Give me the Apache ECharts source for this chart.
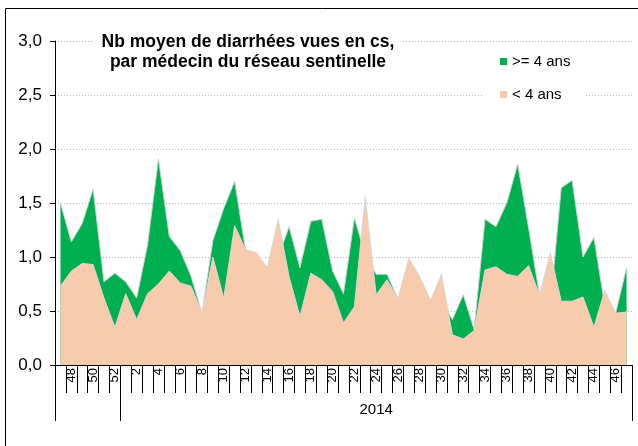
<!DOCTYPE html>
<html><head><meta charset="utf-8">
<script src="https://cdn.jsdelivr.net/npm/echarts@6/dist/echarts.min.js"></script>
<style>html,body{margin:0;padding:0;background:#fff}#c{width:638px;height:446px}</style>
</head><body><div id="c"></div>
<script>
// Weeks: 2013 w47..w52, then 2014 w1..w47
const weeks = ['47','48','49','50','51','52',
  '1','2','3','4','5','6','7','8','9','10','11','12','13','14','15','16','17','18','19','20',
  '21','22','23','24','25','26','27','28','29','30','31','32','33','34','35','36','37','38','39','40',
  '41','42','43','44','45','46','47'];
const yearLabels = ['2013', '2014'];
const yearStartIndex = [0, 6];
const seriesNames = ['>= 4 ans', '< 4 ans'];
const titleLines = ['Nb moyen de diarrhées vues en cs,', 'par médecin du réseau sentinelle'];

const ge4 = [1.50,1.14,1.31,1.63,0.77,0.85,
  0.77,0.62,1.11,1.91,1.19,1.06,0.82,0.48,1.15,1.45,1.70,1.07,1.00,0.85,1.00,1.28,0.90,1.33,1.35,0.87,
  0.66,1.36,1.02,0.84,0.84,0.61,0.80,0.70,0.55,0.60,0.42,0.65,0.33,1.35,1.28,1.50,1.86,1.27,0.65,0.55,
  1.64,1.71,1.00,1.18,0.55,0.48,0.90];
const lt4 = [0.73,0.87,0.94,0.93,0.62,0.35,
  0.66,0.42,0.66,0.75,0.87,0.76,0.73,0.48,1.00,0.62,1.29,1.07,1.04,0.90,1.35,0.82,0.45,0.85,0.79,0.68,
  0.39,0.54,1.56,0.65,0.79,0.61,0.99,0.82,0.60,0.84,0.28,0.24,0.32,0.88,0.91,0.84,0.82,0.92,0.65,1.04,
  0.59,0.59,0.63,0.35,0.69,0.48,0.49];

const yMin = 0, yMax = 3, yStep = 0.5;
const FONT = 'Liberation Sans, Arial, sans-serif';

const chart = echarts.init(document.getElementById('c'), null, {renderer: 'canvas'});
chart.setOption({
  animation: false,
  backgroundColor: '#fff',
  grid: {left: 55, right: 6, top: 41, bottom: 81, containLabel: false},
  legend: {
    orient: 'vertical', left: 483, top: 45,
    padding: [9, 14, 9, 17], itemGap: 18,
    itemWidth: 7, itemHeight: 7, icon: 'rect',
    backgroundColor: '#fff',
    textStyle: {fontFamily: FONT, fontSize: 15, color: '#000'},
    data: seriesNames
  },
  xAxis: {
    type: 'category', data: weeks, boundaryGap: true,
    axisLine: {show: true, lineStyle: {color: '#000', width: 1}},
    axisTick: {show: true, interval: 0, length: 28, lineStyle: {color: '#000', width: 1}},
    axisLabel: {
      interval: (idx) => idx % 2 === 1,
      rotate: 90, margin: 3, color: '#000', fontFamily: FONT, fontSize: 13
    },
    splitLine: {show: false}
  },
  yAxis: {
    type: 'value', min: yMin, max: yMax, interval: yStep,
    axisLine: {show: true, lineStyle: {color: '#000', width: 1}},
    axisTick: {show: true, length: 5, lineStyle: {color: '#000'}},
    axisLabel: {
      margin: 13, color: '#000', fontFamily: FONT, fontSize: 17,
      formatter: (v) => v.toFixed(1).replace('.', ',')
    },
    splitLine: {show: true, lineStyle: {color: '#b8b8b8', type: [1, 2], width: 1}}
  },
  series: [
    {
      name: seriesNames[0], type: 'line', data: ge4, symbol: 'none', z: 2,
      color: '#00B050', itemStyle: {color: '#00B050'},
      lineStyle: {color: '#d0d0d0', width: 1},
      areaStyle: {color: '#00B050', opacity: 1}
    },
    {
      name: seriesNames[1], type: 'line', data: lt4, symbol: 'none', z: 3,
      color: '#F8CBAD', itemStyle: {color: '#F8CBAD'},
      lineStyle: {color: '#d8d8d8', width: 1},
      areaStyle: {color: '#F8CBAD', opacity: 1}
    }
  ]
});

// Grouped year axis decorations derived from the category axis scale
const px = (i) => chart.convertToPixel({xAxisIndex: 0}, i);
const y0 = chart.convertToPixel({yAxisIndex: 0}, yMin);
const step = px(1) - px(0);
const n = weeks.length;
const bounds = yearStartIndex.map(i => px(i) - step / 2).concat([px(n - 1) + step / 2]);
const graphics = [];
bounds.forEach(b => {
  graphics.push({type: 'line', z: 50, shape: {x1: Math.round(b) + 0.5, y1: y0, x2: Math.round(b) + 0.5, y2: y0 + 56},
    style: {stroke: '#000', lineWidth: 1}});
});
yearLabels.forEach((lab, k) => {
  const a = bounds[k], b = bounds[k + 1];
  if (b - a > 80) {
    graphics.push({type: 'text', z: 50, x: (a + b) / 2, y: y0 + 45,
      style: {text: lab, align: 'center', verticalAlign: 'middle', font: '15px ' + FONT, fill: '#000'}});
  }
});
graphics.push({type: 'text', z: 100, x: 248, y: 52,
  style: {text: titleLines.join('\n'), align: 'center', verticalAlign: 'middle',
    font: 'bold 17.5px ' + FONT, lineHeight: 20, fill: '#000', backgroundColor: '#fff', padding: [2, 8]}});
graphics.push({type: 'rect', z: 100, shape: {x: 5.5, y: 8.5, width: 640, height: 450},
  style: {fill: null, stroke: '#000', lineWidth: 1}});
chart.setOption({graphic: graphics});
</script>
</body></html>
